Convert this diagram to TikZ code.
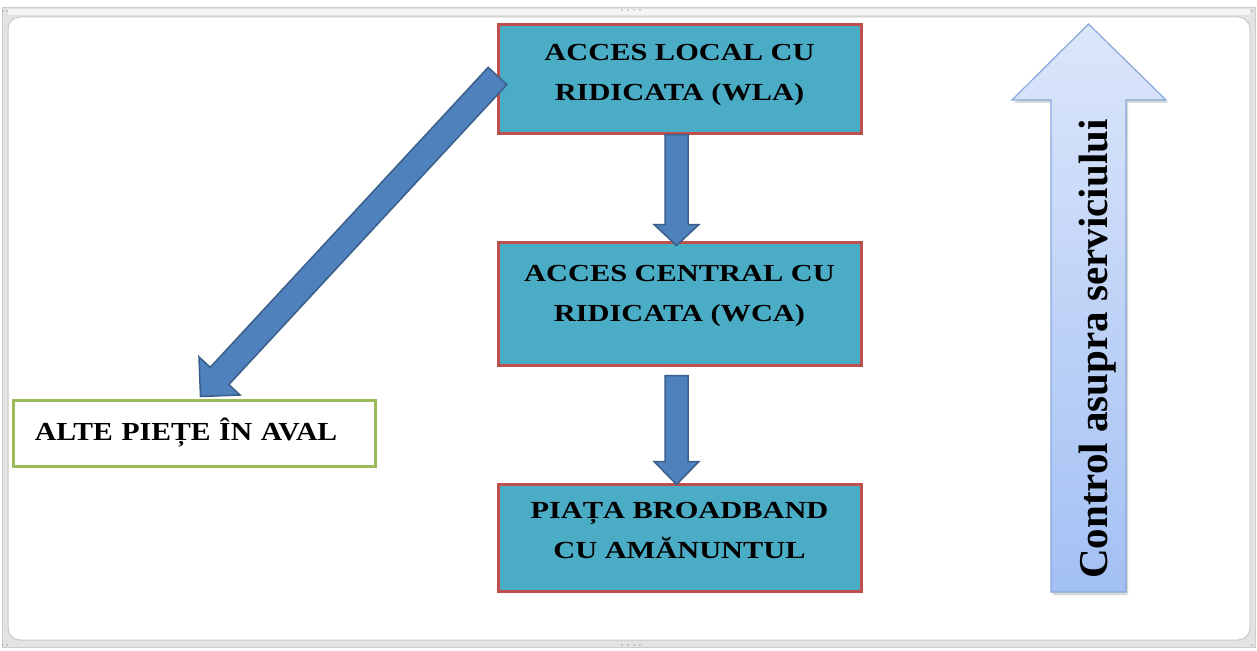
\documentclass[tikz,border=0pt]{standalone}
\usepackage{fontspec}
\setmainfont{Liberation Serif}
\newfontfamily\boxfont[FakeStretch=1.24]{Liberation Serif}
\newfontfamily\sidefont[FakeStretch=1.14]{Liberation Serif}
\usetikzlibrary{calc,shadows}
\definecolor{aqua}{HTML}{4BACC6}
\definecolor{redb}{HTML}{C0504D}
\definecolor{greenb}{HTML}{9BBB59}
\definecolor{arrowfill}{HTML}{4F81BD}
\definecolor{arrowdraw}{HTML}{3A5F8B}
\definecolor{uptop}{HTML}{DCE6FA}
\definecolor{upbot}{HTML}{A3C0F4}
\definecolor{updraw}{HTML}{86A8DA}
\definecolor{bandgray}{HTML}{E3E3E3}
\definecolor{linegray}{HTML}{C9C9C9}
\newcommand\blockarrow[6]{% style, start, end, shaft half, head half, head length
  \coordinate (bah) at ($(#3)!#6!(#2)$);
  \draw[#1] ($(#2)!#4!90:(#3)$) -- ($(bah)!#4!90:(#3)$) -- ($(bah)!#5!90:(#3)$) -- (#3)
    -- ($(bah)!#5!-90:(#3)$) -- ($(bah)!#4!-90:(#3)$) -- ($(#2)!#4!-90:(#3)$) -- cycle;
}
\begin{document}
\begin{tikzpicture}[x=1pt,y=-1pt,
  boxtext/.style={font=\boxfont\bfseries\fontsize{24.5}{40}\selectfont, align=center},
  mainbox/.style={boxtext, draw=redb, line width=3pt, fill=aqua, minimum width=363pt, inner sep=0pt},
  sidebox/.style={font=\sidefont\bfseries\fontsize{26}{30}\selectfont, draw=greenb, line width=3pt, fill=white, minimum width=362pt, minimum height=66pt, inner sep=0pt},
  fatarrow/.style={fill=arrowfill, draw=arrowdraw, line width=1.5pt, line join=miter},
  handle/.style={fill=gray!70, draw=none}]
\useasboundingbox (0,0) rectangle (1257,650);
% frame
\fill[white] (0,0) rectangle (1257,650);
\draw[bandgray!90!black, fill=bandgray] (2,7) rectangle (1255,647);
\fill[white!60!bandgray] (8,9) rectangle (1250,15);
\draw[linegray, fill=white, rounded corners=12pt, line width=1pt] (8,17) rectangle (1250,640);
\foreach \hx in {622,628,634,640}{
  \fill[handle] (\hx,10) circle (0.9);
  \fill[handle] (\hx,645) circle (0.9);
}
\fill[handle] (2.5,11) circle (0.9);
\fill[handle] (7,11) circle (0.9);
\fill[handle] (1252,11) circle (0.9);
\fill[handle] (2.5,645) circle (0.9);
\fill[handle] (7,645) circle (0.9);
\fill[handle] (1252,645) circle (0.9);

% boxes
\node[mainbox, minimum height=108pt, text depth=14pt] (wla) at (679.5,79) {ACCES LOCAL CU\\RIDICATA (WLA)};
\node[mainbox, minimum height=123pt, text depth=20pt] (wca) at (679.5,303.5) {ACCES CENTRAL CU\\RIDICATA (WCA)};
\node[mainbox, minimum height=107pt, text depth=14pt] (bb) at (679.5,537.5) {PIAȚA BROADBAND\\CU AMĂNUNTUL};
\node[sidebox, text depth=8pt, text width=358pt, align=left, inner xsep=2pt] (alte) at (194,433) {\hspace*{20pt}ALTE PIEȚE ÎN AVAL};
% connectors
\coordinate (d1s) at ($(wla.south)+(-3,0)$);
\coordinate (d1e) at ($(wca.north)+(-3,5)$);
\coordinate (d2s) at ($(wca.south)+(-3,9)$);
\coordinate (d2e) at ($(bb.north)+(-3,2)$);
\coordinate (dgs) at ($(wla.west)+(1,-3)$);
\coordinate (dge) at ($(alte.north west)+(189,-2)$);
\blockarrow{fatarrow}{d1s}{d1e}{11.5pt}{22.5pt}{21pt}
\blockarrow{fatarrow}{d2s}{d2e}{11.5pt}{22.5pt}{23pt}
\blockarrow{fatarrow}{dgs}{dge}{12.7pt}{28pt}{28pt}

% big up arrow
\draw[top color=uptop, bottom color=upbot, draw=updraw, line width=1.2pt,
  drop shadow={shadow xshift=2pt, shadow yshift=-3pt, opacity=0.3}]
  (1088.5,24) -- (1166,100) -- (1126,100) -- (1126,592) -- (1051,592) -- (1051,100) -- (1012,100) -- cycle;
\node[rotate=90, anchor=base, inner sep=0pt, font=\bfseries\fontsize{41}{41}\selectfont] (ctrl) at (1107,349) {Control asupra serviciului};
\end{tikzpicture}
\end{document}
